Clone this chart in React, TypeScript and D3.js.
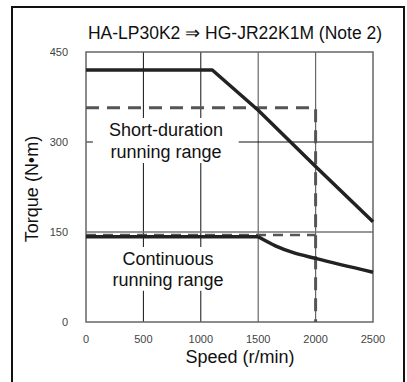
import React from "react";
import * as d3 from "d3";

const title = "HA-LP30K2 ⇒ HG-JR22K1M (Note 2)";
const xTicks = [0, 500, 1000, 1500, 2000, 2500];
const yTicks = [0, 150, 300, 450];
// Short-duration max torque curve (speed r/min, torque N·m)
const shortSpeed = [0, 1100, 1500, 2000, 2500];
const shortTorque = [420, 420, 353, 259, 167];
// Continuous torque curve: flat part, then falling part
const contFlatSpeed = [0, 1500];
const contFlatTorque = [142, 142];
const contFallSpeed = [1500, 1650, 1800, 2000, 2500];
const contFallTorque = [142, 127, 116, 106, 83];
// Dashed rated boundaries
const shortRatedTorque = 357;
const contRatedTorque = 145;
const ratedSpeed = 2000;

export default function App() {
  const W = 407, H = 382;
  const x = d3.scaleLinear().domain([0, 2500]).range([86, 373]);
  const y = d3.scaleLinear().domain([0, 450]).range([322, 52]);
  const smooth = d3
    .line<[number, number]>()
    .x((d) => x(d[0]))
    .y((d) => y(d[1]))
    .curve(d3.curveMonotoneX);
  const lin = d3
    .line<[number, number]>()
    .x((d) => x(d[0]))
    .y((d) => y(d[1]));

  const zip = (a: number[], b: number[]) => a.map((s, i) => [s, b[i]] as [number, number]);
  const shortPts = zip(shortSpeed, shortTorque);
  const contFlat = zip(contFlatSpeed, contFlatTorque);
  const contFall = zip(contFallSpeed, contFallTorque);

  const font = "'Liberation Sans', Arial, sans-serif";
  // visible torque ranges of the 500/1000 vertical gridlines (gaps behind labels)
  const vSegs: [number, number][] = [
    [450, 340],
    [265, 125],
    [52, 0],
  ];

  return (
    <svg width={W} height={H} style={{ position: "absolute", left: 0, top: 0, background: "#fff" }}>
      <rect x={0} y={0} width={W} height={H} fill="#fff" />
      {/* outer frame */}
      <path d={`M12,${H + 5} L12,7 L404,7 L404,${H + 5}`} fill="none" stroke="#111" strokeWidth={2} />
      {/* grid */}
      {[500, 1000].map((s) =>
        vSegs.map((seg, i) => (
          <line key={`v${s}-${i}`} x1={x(s)} x2={x(s)} y1={y(seg[0])} y2={y(seg[1])} stroke="#111" strokeWidth={1} />
        ))
      )}
      {[1500, 2000].map((s) => (
        <line key={`vg${s}`} x1={x(s)} x2={x(s)} y1={y(450)} y2={y(0)} stroke="#666" strokeWidth={1.2} />
      ))}
      <line x1={x(0)} x2={x(60)} y1={y(300)} y2={y(300)} stroke="#111" strokeWidth={1} />
      <line x1={x(1330)} x2={x(2500)} y1={y(300)} y2={y(300)} stroke="#111" strokeWidth={1} />
      <line x1={x(0)} x2={x(2500)} y1={y(150)} y2={y(150)} stroke="#777" strokeWidth={1.3} />
      {/* plot border */}
      <rect x={x(0)} y={y(450)} width={x(2500) - x(0)} height={y(0) - y(450)} fill="none" stroke="#666" strokeWidth={1.5} />

      {/* dashed rated boundaries */}
      <path
        d={lin([[0, shortRatedTorque], [ratedSpeed, shortRatedTorque], [ratedSpeed, 0]]) || ""}
        fill="none" stroke="#555" strokeWidth={3} strokeDasharray="13 8"
      />
      <path
        d={lin([[0, contRatedTorque], [ratedSpeed, contRatedTorque]]) || ""}
        fill="none" stroke="#555" strokeWidth={2.5} strokeDasharray="10 7"
      />
      {/* solid curves */}
      <path d={lin(shortPts) || ""} fill="none" stroke="#222" strokeWidth={3.5} strokeLinejoin="round" />
      <path d={lin(contFlat) || ""} fill="none" stroke="#222" strokeWidth={3.5} />
      <path d={smooth(contFall) || ""} fill="none" stroke="#222" strokeWidth={3.5} strokeLinejoin="round" />

      {/* tick labels */}
      {yTicks.map((t) => (
        <text key={`yt${t}`} x={68} y={y(t) + 4} textAnchor="end" fontFamily={font} fontSize={11} fill="#444">
          {t}
        </text>
      ))}
      {xTicks.map((t) => (
        <text key={`xt${t}`} x={x(t)} y={343} textAnchor="middle" fontFamily={font} fontSize={11} fill="#444">
          {t}
        </text>
      ))}

      {/* labels */}
      <text x={235} y={39} textAnchor="middle" fontFamily={font} fontSize={17.5} fill="#111">
        {title}
      </text>
      <text x={240} y={363} textAnchor="middle" fontFamily={font} fontSize={18} fill="#111">
        Speed (r/min)
      </text>
      <text transform={`translate(38,189) rotate(-90)`} textAnchor="middle" fontFamily={font} fontSize={18} fill="#111">
        Torque (N•m)
      </text>
      <text x={166} y={136} textAnchor="middle" fontFamily={font} fontSize={18} fill="#111">Short-duration</text>
      <text x={166} y={158} textAnchor="middle" fontFamily={font} fontSize={18} fill="#111">running range</text>
      <text x={168} y={265} textAnchor="middle" fontFamily={font} fontSize={18} fill="#111">Continuous</text>
      <text x={168} y={286} textAnchor="middle" fontFamily={font} fontSize={18} fill="#111">running range</text>
    </svg>
  );
}
